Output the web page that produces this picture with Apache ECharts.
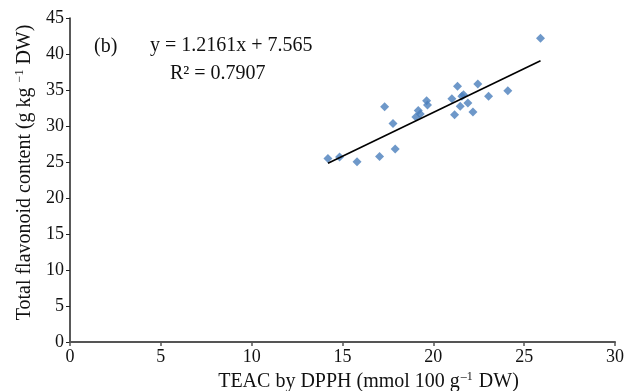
<!DOCTYPE html>
<html>
<head>
<meta charset="utf-8">
<script src="https://cdn.jsdelivr.net/npm/echarts@6/dist/echarts.min.js"></script>
<style>
html,body{margin:0;padding:0;background:#fff;}
#chart{width:640px;height:391px;}
</style>
</head>
<body>
<div id="chart"></div>
<script>
// TEAC by DPPH (mmol 100 g-1 DW)
var teac = [14.20, 14.84, 15.80, 17.04, 17.90, 17.32, 17.78, 19.04, 19.17, 19.28, 19.63, 19.68,
            21.02, 21.33, 21.17, 21.48, 21.57, 21.66, 21.90, 22.18, 22.45, 23.04, 24.10, 25.90];
// Total flavonoid content (g kg-1 DW)
var flavonoid = [25.49, 25.69, 25.03, 25.77, 26.80, 32.68, 30.36, 31.25, 32.17, 31.67, 33.52, 32.92,
                 33.80, 35.51, 31.57, 32.73, 34.12, 34.35, 33.20, 31.95, 35.84, 34.12, 34.91, 42.18];
// Trendline y = 1.2161x + 7.565 over the data range
var slope = 1.2161, intercept = 7.565;
var trendX = [14.20, 25.90];
var xTicks = [0, 5, 10, 15, 20, 25, 30];
var yTicks = [0, 5, 10, 15, 20, 25, 30, 35, 40, 45];

var points = teac.map(function (x, i) { return [x, flavonoid[i]]; });
var trend = trendX.map(function (x) { return [x, slope * x + intercept]; });

var FONT = '"Liberation Serif", "DejaVu Serif", serif';
var chart = echarts.init(document.getElementById('chart'), null, {renderer: 'canvas'});
chart.setOption({
  animation: false,
  backgroundColor: '#ffffff',
  grid: {left: 70, right: 25, top: 18, bottom: 49, containLabel: false, outerBoundsMode: 'none'},
  xAxis: {
    type: 'value', min: xTicks[0], max: xTicks[xTicks.length - 1], interval: 5,
    splitLine: {show: false},
    axisLine: {show: true, lineStyle: {color: '#555555', width: 2}},
    axisTick: {show: true, length: 4, lineStyle: {color: '#555555', width: 1.5}},
    axisLabel: {color: '#111', fontFamily: FONT, fontSize: 18, margin: 6},
    name: '{a|TEAC by DPPH (mmol 100 g}{s|–1}{a| DW)}',
    nameLocation: 'middle', nameGap: 27,
    nameTextStyle: {
      padding: [0, 0, 0, 52],
      rich: {
        a: {fontFamily: FONT, fontSize: 20, color: '#111', lineHeight: 22},
        s: {fontFamily: FONT, fontSize: 12, color: '#111', verticalAlign: 'top', lineHeight: 20, padding: [0, 1, 0, 1]}
      }
    }
  },
  yAxis: {
    type: 'value', min: yTicks[0], max: yTicks[yTicks.length - 1], interval: 5,
    splitLine: {show: false},
    axisLine: {show: true, lineStyle: {color: '#222222', width: 1.5}},
    axisTick: {show: true, length: 4, lineStyle: {color: '#222222', width: 1}},
    axisLabel: {color: '#111', fontFamily: FONT, fontSize: 18, margin: 6},
    name: '{a|Total flavonoid content (g kg }{s|−1}{a| DW)}',
    nameLocation: 'middle', nameGap: 34, nameRotate: 90,
    nameTextStyle: {
      padding: [0, 0, 0, 15],
      rich: {
        a: {fontFamily: FONT, fontSize: 20, color: '#111', lineHeight: 22},
        s: {fontFamily: FONT, fontSize: 12, color: '#111', verticalAlign: 'top', lineHeight: 22}
      }
    }
  },
  series: [
    {
      type: 'scatter', data: points, symbol: 'diamond', symbolSize: 9,
      itemStyle: {color: '#4a7ebb'}, z: 3
    },
    {
      type: 'line', data: trend, symbol: 'none', showSymbol: false,
      lineStyle: {color: '#000000', width: 1.6}, z: 4
    }
  ],
  graphic: [
    {type: 'text', left: 94, top: 37, style: {text: '(b)', fontFamily: FONT, fontSize: 20, fill: '#111'}},
    {type: 'text', left: 150, top: 36, style: {text: 'y = 1.2161x + 7.565', fontFamily: FONT, fontSize: 20, fill: '#111'}},
    {type: 'text', left: 170, top: 64, style: {text: 'R² = 0.7907', fontFamily: FONT, fontSize: 20, fill: '#111'}}
  ]
});
</script>
</body>
</html>
